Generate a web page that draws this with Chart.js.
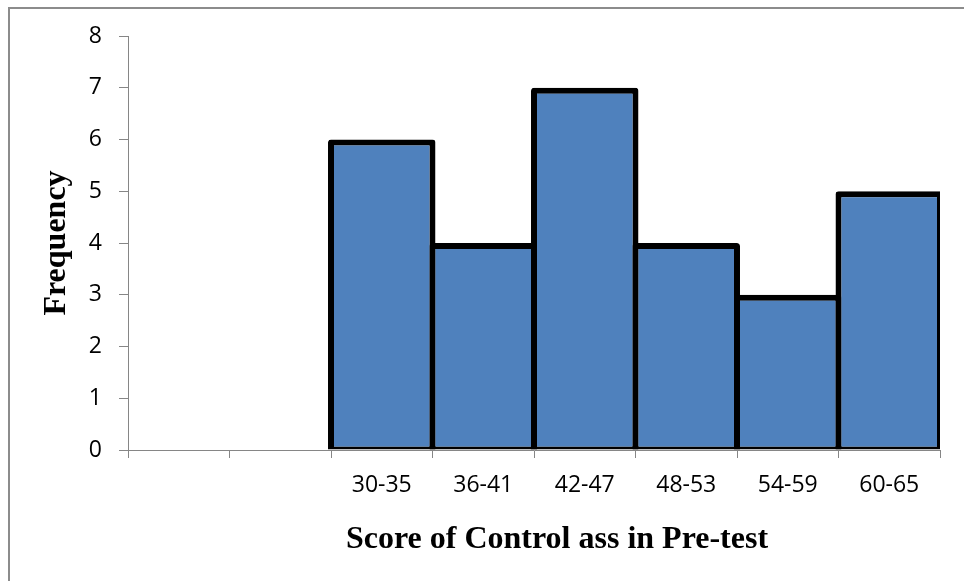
<!DOCTYPE html>
<html>
<head>
<meta charset="utf-8">
<script src="https://cdn.jsdelivr.net/npm/chart.js@4/dist/chart.umd.min.js"></script>
<style>
  html, body { margin: 0; padding: 0; background: #ffffff; }
  #chart { display: block; }
</style>
</head>
<body>
<canvas id="chart" width="964" height="581"></canvas>
<script>
// Score bins (the first two bins are empty) and how many students fell in each
const categories = ['', '', '30-35', '36-41', '42-47', '48-53', '54-59', '60-65'];
const frequency = [null, null, 6, 4, 7, 4, 3, 5];
const yMin = 0;
const yMax = 8;
const yStep = 1;
const yTitle = 'Frequency';
const xTitle = 'Score of Control ass in Pre-test';

const axisGray = '#868686';
const barBlue = '#4F81BD';

// Thin gray frame around the figure
const framePlugin = {
  id: 'frame',
  beforeDraw(chart) {
    const ctx = chart.ctx;
    ctx.save();
    ctx.strokeStyle = '#8c8c8c';
    ctx.lineWidth = 2;
    ctx.beginPath();
    ctx.moveTo(9, chart.height);
    ctx.lineTo(9, 8);
    ctx.lineTo(chart.width, 8);
    ctx.stroke();
    ctx.restore();
  }
};

// Horizontal axis title, set a little right of the plot centre
const xTitlePlugin = {
  id: 'xTitle',
  afterDraw(chart) {
    const ctx = chart.ctx;
    const area = chart.chartArea;
    ctx.save();
    ctx.font = 'bold 32px "Liberation Serif", "Times New Roman", serif';
    ctx.fillStyle = '#000000';
    ctx.textAlign = 'center';
    ctx.textBaseline = 'middle';
    ctx.fillText(xTitle, (area.left + area.right) / 2 + 23, area.bottom + 90);
    ctx.restore();
  }
};

new Chart(document.getElementById('chart'), {
  type: 'bar',
  data: {
    labels: categories,
    datasets: [{
      data: frequency,
      backgroundColor: barBlue,
      borderColor: '#000000',
      borderWidth: { top: 6, left: 6, right: 6, bottom: 3 },
      borderSkipped: false,
      borderRadius: { topLeft: 3, topRight: 3, bottomLeft: 0, bottomRight: 0 },
      // bars reach 3px past each bin edge so neighbouring outlines share one 6px stroke
      barPercentage: 1.059,
      categoryPercentage: 1
    }]
  },
  options: {
    responsive: false,
    animation: false,
    layout: { padding: { top: 36, right: 24, bottom: 0, left: 0 } },
    plugins: {
      legend: { display: false },
      tooltip: { enabled: false }
    },
    scales: {
      x: {
        offset: true,
        afterFit(scale) { scale.height = 131; },
        grid: {
          offset: true,
          drawOnChartArea: false,
          drawTicks: true,
          tickLength: 8,
          color: axisGray,
          lineWidth: 1
        },
        border: { display: true, color: axisGray, width: 1 },
        ticks: {
          color: '#000000',
          padding: 14,
          maxRotation: 0,
          autoSkip: false,
          font: { family: '"Open Sans", sans-serif', size: 23 }
        }
      },
      y: {
        min: yMin,
        max: yMax,
        afterFit(scale) { scale.width = 128; },
        grid: {
          drawOnChartArea: false,
          drawTicks: true,
          tickLength: 9,
          color: axisGray,
          lineWidth: 1
        },
        border: { display: true, color: axisGray, width: 1 },
        ticks: {
          stepSize: yStep,
          color: '#000000',
          padding: 17,
          font: { family: '"Open Sans", sans-serif', size: 23 }
        },
        title: {
          display: true,
          text: yTitle,
          color: '#000000',
          padding: { top: 38, bottom: 0 },
          font: { family: '"Liberation Serif", "Times New Roman", serif', size: 32, weight: 'bold' }
        }
      }
    }
  },
  plugins: [framePlugin, xTitlePlugin]
});
</script>
</body>
</html>
